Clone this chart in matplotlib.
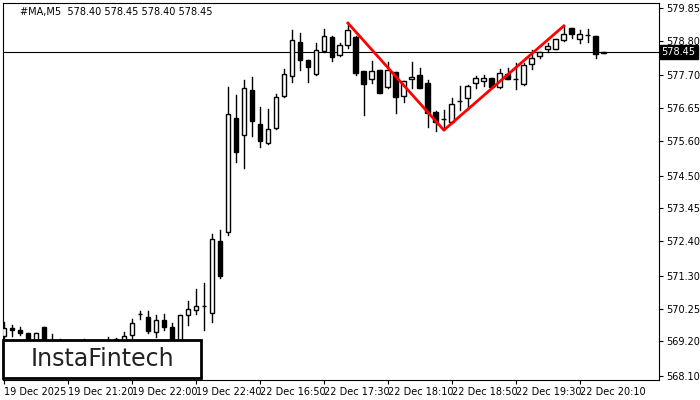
import matplotlib
matplotlib.use("Agg")
import matplotlib.pyplot as plt
from matplotlib.patches import Rectangle

# OHLC, one row per 5-minute candle
opens = [569.38, 569.63, 569.57, 569.47, 569.25, 569.66, 569.25, 569.10, 569.20, 569.08,
         569.15, 569.12, 569.05, 569.10, 569.28, 569.22, 569.41, 570.08, 569.98, 569.50,
         569.88, 569.66, 569.09, 570.05, 570.20, 570.33, 570.11, 572.41, 572.70, 576.34,
         575.79, 577.23, 576.15, 575.54, 576.02, 577.04, 577.68, 578.76, 578.19, 577.74,
         578.48, 578.92, 578.35, 578.67, 578.92, 577.84, 577.58, 577.87, 577.33, 577.81,
         577.04, 577.58, 577.71, 577.46, 576.53, 576.31, 576.21, 576.88, 576.98, 577.46,
         577.52, 577.61, 577.33, 577.74, 577.58, 577.42, 578.06, 578.32, 578.54, 578.54,
         578.83, 579.21, 578.86, 578.99, 578.96, 578.40]
highs = [569.82, 569.73, 569.66, 569.47, 569.47, 569.66, 569.44, 569.28, 569.25, 569.22,
         569.28, 569.20, 569.18, 569.35, 569.30, 569.50, 569.91, 570.17, 570.17, 570.05,
         570.08, 569.79, 570.05, 570.49, 570.88, 571.07, 572.63, 572.76, 577.33, 577.07,
         577.55, 577.65, 576.69, 576.63, 577.10, 577.90, 579.15, 579.05, 578.19, 578.73,
         579.18, 578.95, 578.73, 579.37, 578.95, 577.84, 578.16, 577.87, 578.13, 577.81,
         577.52, 578.13, 577.93, 577.55, 576.56, 576.59, 576.98, 577.36, 577.39, 577.68,
         577.71, 577.61, 577.90, 577.93, 578.09, 578.09, 578.51, 578.45, 578.73, 578.86,
         579.28, 579.21, 579.15, 579.18, 578.96, 578.45]
lows = [569.31, 569.38, 569.41, 569.15, 569.15, 569.10, 569.00, 569.00, 569.02, 568.98,
        569.05, 568.95, 568.98, 569.02, 569.05, 569.10, 569.31, 569.91, 569.47, 569.35,
        569.57, 569.09, 569.00, 569.73, 570.08, 569.57, 569.82, 571.23, 572.60, 574.93,
        574.74, 575.76, 575.41, 575.51, 576.00, 577.00, 577.49, 577.87, 577.49, 577.70,
        578.45, 578.16, 578.32, 578.57, 577.71, 576.43, 577.46, 577.14, 577.30, 576.50,
        576.85, 577.30, 577.30, 576.05, 575.92, 575.95, 576.18, 576.59, 576.63, 577.30,
        577.36, 577.33, 577.30, 577.58, 577.26, 577.38, 577.90, 578.25, 578.45, 578.54,
        578.80, 578.89, 578.73, 578.76, 578.25, 578.40]
closes = [569.63, 569.57, 569.47, 569.25, 569.47, 569.25, 569.15, 569.20, 569.08, 569.15,
          569.12, 569.05, 569.10, 569.18, 569.15, 569.38, 569.79, 570.09, 569.54, 569.88,
          569.66, 569.25, 570.05, 570.24, 570.33, 570.34, 572.47, 571.29, 576.47, 575.25,
          577.30, 576.24, 575.60, 575.99, 577.01, 577.74, 578.83, 578.19, 577.97, 578.51,
          578.96, 578.29, 578.67, 579.15, 577.77, 577.42, 577.84, 577.14, 577.87, 577.00,
          577.52, 577.65, 577.30, 576.50, 576.21, 576.32, 576.78, 576.89, 577.36, 577.61,
          577.61, 577.33, 577.77, 577.58, 577.59, 578.03, 578.25, 578.45, 578.64, 578.86,
          579.02, 579.02, 579.02, 579.00, 578.38, 578.45]

y_ticks = [579.85, 578.80, 577.70, 576.65, 575.60, 574.50, 573.45, 572.40,
           571.30, 570.25, 569.20, 568.10]
x_tick_pos = [0, 8, 16, 24, 32, 40, 48, 56, 64, 72]
x_tick_labels = ["19 Dec 2025", "19 Dec 21:20", "19 Dec 22:00", "19 Dec 22:40",
                 "22 Dec 16:50", "22 Dec 17:30", "22 Dec 18:10", "22 Dec 18:50",
                 "22 Dec 19:30", "22 Dec 20:10"]
pattern_idx = [43, 55, 70]  # double top: peak, trough, peak
last_price = 578.45

fig = plt.figure(figsize=(7, 4), dpi=100)
ax = fig.add_axes([3 / 700, 20 / 400, 656 / 700, 377 / 400])

w = 0.6
for i, (o, h, l, c) in enumerate(zip(opens, highs, lows, closes)):
    ax.plot([i, i], [l, h], color="black", lw=1, zorder=2)
    bottom, top = min(o, c), max(o, c)
    face = "white" if c >= o else "black"
    ax.add_patch(Rectangle((i - w / 2, bottom), w, max(top - bottom, 0.01),
                           facecolor=face, edgecolor="black", lw=1, zorder=3))

px = pattern_idx
py = [highs[px[0]], lows[px[1]], highs[px[2]]]
ax.plot(px, py, color="red", lw=2, zorder=4)

ax.axhline(last_price, color="black", lw=0.8, zorder=1)

ax.set_xlim(-0.125, 81.9)
ax.set_ylim(567.97, 580.01)
ax.yaxis.tick_right()
ax.set_yticks(y_ticks)
ax.set_yticklabels([f"{v:.2f}" for v in y_ticks], fontsize=7)
ax.set_xticks(x_tick_pos)
ax.set_xticklabels(x_tick_labels, fontsize=7, ha="left")
ax.tick_params(length=3, width=0.8, pad=2)
for s in ax.spines.values():
    s.set_linewidth(0.8)

ax.text(1.004, (last_price - 567.97) / (580.01 - 567.97), f"{last_price:.2f}",
        transform=ax.transAxes, fontsize=7, color="white", va="center", ha="left",
        bbox=dict(facecolor="black", edgecolor="black", pad=1.5), zorder=10, clip_on=False)

fig.text(20 / 700, 1 - 12 / 400, "#MA,M5  578.40 578.45 578.40 578.45",
         fontsize=7, va="center", ha="left")

# logo box
fig.patches.append(Rectangle((3 / 700, 1 - 378 / 400), 198 / 700, 38 / 400,
                             transform=fig.transFigure, facecolor="white",
                             edgecolor="black", lw=2, zorder=20))
fig.text(102 / 700, 1 - 359 / 400, "InstaFintech", fontsize=17, color="#222222",
         ha="center", va="center", zorder=21)

fig.savefig("out.png", dpi=100)
